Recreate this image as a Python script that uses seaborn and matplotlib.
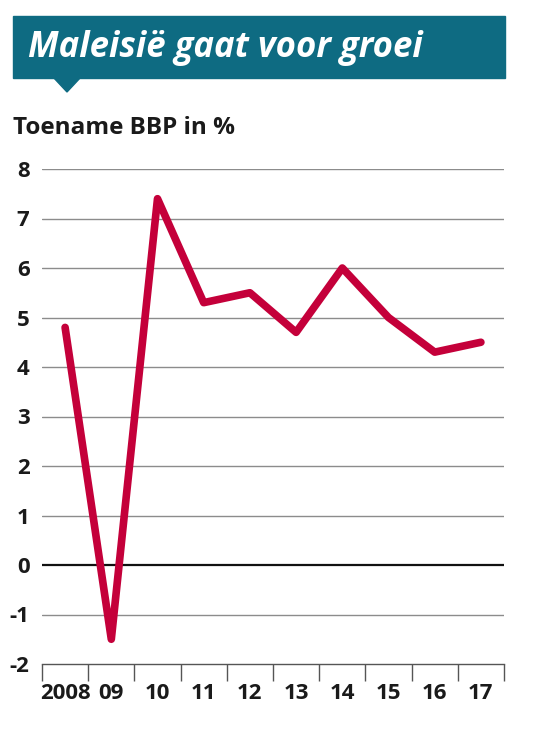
import matplotlib
matplotlib.use("Agg")
import matplotlib.pyplot as plt
import seaborn as sns
import pandas as pd
from matplotlib.patches import Polygon, Rectangle
from matplotlib.ticker import FixedLocator

years = ["2008", "09", "10", "11", "12", "13", "14", "15", "16", "17"]
growth = [4.8, -1.5, 7.4, 5.3, 5.5, 4.7, 6.0, 5.0, 4.3, 4.5]
yticks = [-2, -1, 0, 1, 2, 3, 4, 5, 6, 7, 8]
ytick_labels = ["-2", "-1", "0", "1", "2", "3", "4", "5", "6", "7", "8"]
title = "Maleisië gaat voor groei"
subtitle = "Toename BBP in %"

sns.set_theme(style="white")
plt.rcParams['font.family'] = ['Open Sans', 'DejaVu Sans']

W, H = 543, 732
fig = plt.figure(figsize=(W / 100, H / 100), dpi=100)

# Banner
banner_color = "#0e6b82"
fig.patches.append(Rectangle((13 / W, 1 - 78 / H), (505 - 13) / W, (78 - 16) / H,
                             transform=fig.transFigure, color=banner_color, zorder=0))
fig.patches.append(Polygon([(53 / W, 1 - 77 / H), (81 / W, 1 - 77 / H), (67 / W, 1 - 92 / H)],
                           closed=True, transform=fig.transFigure, color=banner_color, zorder=0))
fig.text(28 / W, 1 - 48 / H, title, color="white", fontsize=25, fontweight="bold",
         fontstyle="italic", va="center", ha="left")
fig.text(13 / W, 1 - 128 / H, subtitle, color="#1a1a1a", fontsize=17.5, fontweight="bold",
         va="center", ha="left")

ax = fig.add_axes([42 / W, 1 - 664 / H, (504 - 42) / W, (664 - 169) / H])
df = pd.DataFrame({"x": range(len(years)), "growth": growth})
sns.lineplot(data=df, x="x", y="growth", ax=ax, color="#c4003a", linewidth=5.5,
             solid_capstyle="round", solid_joinstyle="round", zorder=5)

ax.set_xlim(-0.5, len(years) - 0.5)
ax.set_ylim(-2, 8)
ax.set_xlabel("")
ax.set_ylabel("")

# y grid
for v in yticks:
    if v == 0:
        ax.axhline(v, color="#111111", linewidth=1.6, zorder=3)
    elif v != -2:
        ax.axhline(v, color="#8c8c8c", linewidth=1.0, zorder=2)
ax.set_yticks(yticks)
ax.set_yticklabels(ytick_labels)
ax.tick_params(axis="y", length=0, pad=9, labelsize=16, labelcolor="#1a1a1a")
for t in ax.get_yticklabels():
    t.set_fontweight("bold")

# x ticks: major at boundaries, minor labels at centers
ax.xaxis.set_major_locator(FixedLocator([i - 0.5 for i in range(len(years) + 1)]))
ax.xaxis.set_minor_locator(FixedLocator(list(range(len(years)))))
ax.set_xticklabels([""] * (len(years) + 1))
ax.set_xticklabels(years, minor=True)
ax.tick_params(axis="x", which="major", bottom=True, length=12, width=1.0,
               color="#555555", direction="out")
ax.tick_params(axis="x", which="minor", bottom=True, length=0, pad=14, labelsize=16,
               labelcolor="#1a1a1a")
for t in ax.get_xticklabels(minor=True):
    t.set_fontweight("bold")

for s in ["left", "right", "top"]:
    ax.spines[s].set_visible(False)
ax.spines["bottom"].set_color("#555555")
ax.spines["bottom"].set_linewidth(1.0)

fig.savefig("out.png", dpi=100)
